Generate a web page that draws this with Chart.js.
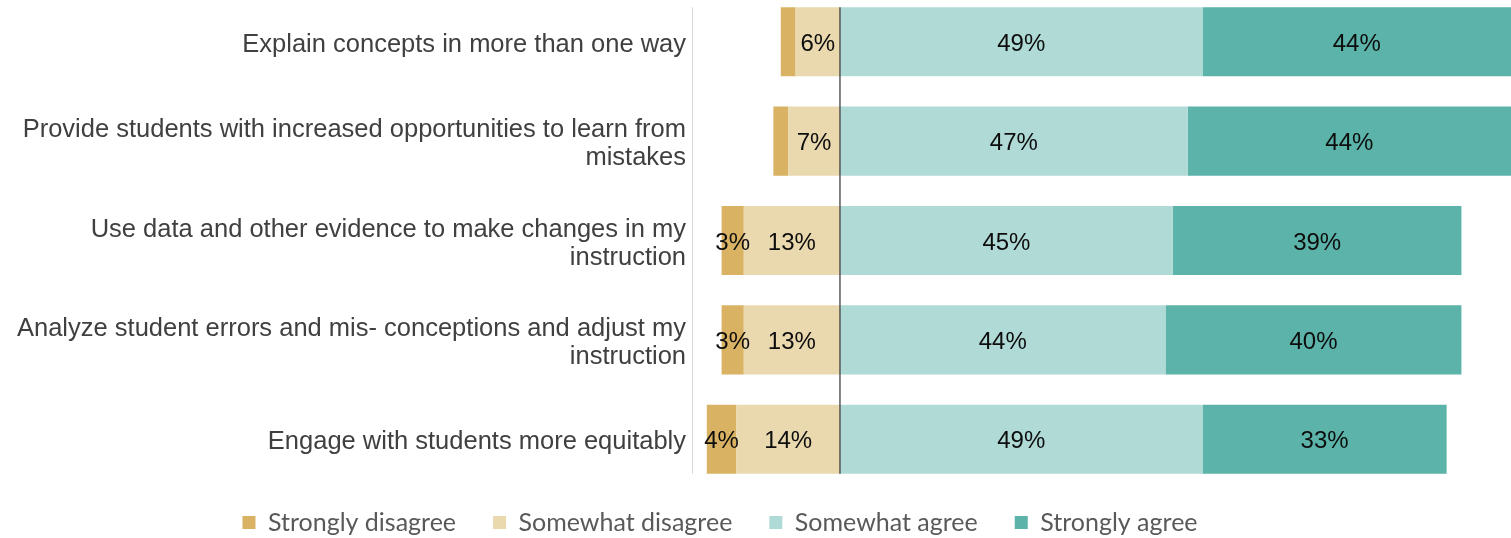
<!DOCTYPE html>
<html><head><meta charset="utf-8">
<script src="https://cdn.jsdelivr.net/npm/chart.js@4.4.1/dist/chart.umd.min.js"></script>
<style>
html,body{margin:0;padding:0;background:#fff;overflow:hidden;width:1511px;height:538px;}
#wrap{position:absolute;left:-71px;top:-28px;width:1582px;height:589px;}
</style></head><body>
<div id="wrap"><canvas id="c"></canvas></div>
<script>
const categories = [
  ['Explain concepts in more than one way'],
  ['Provide students with increased opportunities to learn from', 'mistakes'],
  ['Use data and other evidence to make changes in my', 'instruction'],
  ['Analyze student errors and mis- conceptions and adjust my', 'instruction'],
  ['Engage with students more equitably']
];
const seriesNames = ['Strongly disagree', 'Somewhat disagree', 'Somewhat agree', 'Strongly agree'];
const stronglyDisagree = [2, 2, 3, 3, 4];
const somewhatDisagree = [6, 7, 13, 13, 14];
const somewhatAgree = [49, 47, 45, 44, 49];
const stronglyAgree = [44, 44, 39, 40, 33];
const axisMin = -20;
const axisMax = 90.7;
const minLabelValue = 3;

const colSD = '#D9B263', colSwD = '#EAD8AF', colSwA = '#AFDAD6', colSA = '#5BB3A9';

const neg = a => a.map(v => -v);

const datasets = [
  {label: seriesNames[1], data: neg(somewhatDisagree), backgroundColor: colSwD},
  {label: seriesNames[0], data: neg(stronglyDisagree), backgroundColor: colSD},
  {label: seriesNames[2], data: somewhatAgree, backgroundColor: colSwA},
  {label: seriesNames[3], data: stronglyAgree, backgroundColor: colSA}
];

const linesPlugin = {
  id: 'axisLines',
  afterDatasetsDraw(chart) {
    const ctx = chart.ctx, area = chart.chartArea;
    const bars = chart.getDatasetMeta(0).data;
    const first = bars[0], last = bars[bars.length - 1];
    const top = first.y - first.height / 2;
    const bottom = last.y + last.height / 2;
    const x0 = chart.scales.x.getPixelForValue(0);
    ctx.save();
    ctx.strokeStyle = '#D9D9D9';
    ctx.lineWidth = 1;
    ctx.beginPath();
    ctx.moveTo(Math.round(area.left) + 0.5, top);
    ctx.lineTo(Math.round(area.left) + 0.5, bottom);
    ctx.stroke();
    ctx.strokeStyle = '#404040';
    ctx.lineWidth = 1.3;
    ctx.beginPath();
    ctx.moveTo(x0, top);
    ctx.lineTo(x0, bottom);
    ctx.stroke();
    ctx.restore();
  }
};

const labelsPlugin = {
  id: 'barLabels',
  afterDatasetsDraw(chart) {
    const ctx = chart.ctx, area = chart.chartArea;
    ctx.save();
    ctx.font = '24px "Liberation Sans", Arial, sans-serif';
    ctx.fillStyle = '#0D0D0D';
    ctx.textAlign = 'center';
    ctx.textBaseline = 'middle';
    chart.data.datasets.forEach((ds, di) => {
      chart.getDatasetMeta(di).data.forEach((bar, i) => {
        const v = Math.abs(ds.data[i]);
        if (v < minLabelValue) return;
        const l = Math.max(Math.min(bar.x, bar.base), area.left);
        const r = Math.min(Math.max(bar.x, bar.base), area.right);
        ctx.fillText(v + '%', (l + r) / 2, bar.y + 2.5);
      });
    });
    ctx.restore();
  }
};

const shiftLegend = {
  id: 'shiftLegend',
  afterLayout(chart) {
    const lg = chart.legend;
    if (lg) { lg.top -= 16; lg.bottom -= 16; }
  }
};

new Chart(document.getElementById('c'), {
  type: 'bar',
  data: {labels: categories, datasets},
  options: {
    indexAxis: 'y',
    responsive: true,
    maintainAspectRatio: false,
    animation: false,
    layout: {padding: 0},
    datasets: {bar: {categoryPercentage: 1, barPercentage: 0.695, borderWidth: 0}},
    scales: {
      x: {stacked: true, min: axisMin, max: axisMax, display: false},
      y: {
        stacked: true,
        grid: {display: false, drawTicks: false},
        border: {display: false},
        ticks: {
          color: '#404040',
          padding: 6,
          labelOffset: 3,
          font: {family: '"Liberation Sans", Arial, sans-serif', size: 25.5, lineHeight: 1.1}
        },
        afterFit(scale) { scale.width = 763; }
      }
    },
    plugins: {
      tooltip: {enabled: false},
      legend: {
        position: 'bottom',
        labels: {
          boxWidth: 13,
          boxHeight: 13,
          padding: 37,
          color: '#595959',
          font: {family: 'Lato, "Open Sans", sans-serif', size: 25},
          sort: (a, b) => seriesNames.indexOf(a.text) - seriesNames.indexOf(b.text)
        }
      }
    }
  },
  plugins: [linesPlugin, labelsPlugin, shiftLegend]
});
</script>
</body></html>
